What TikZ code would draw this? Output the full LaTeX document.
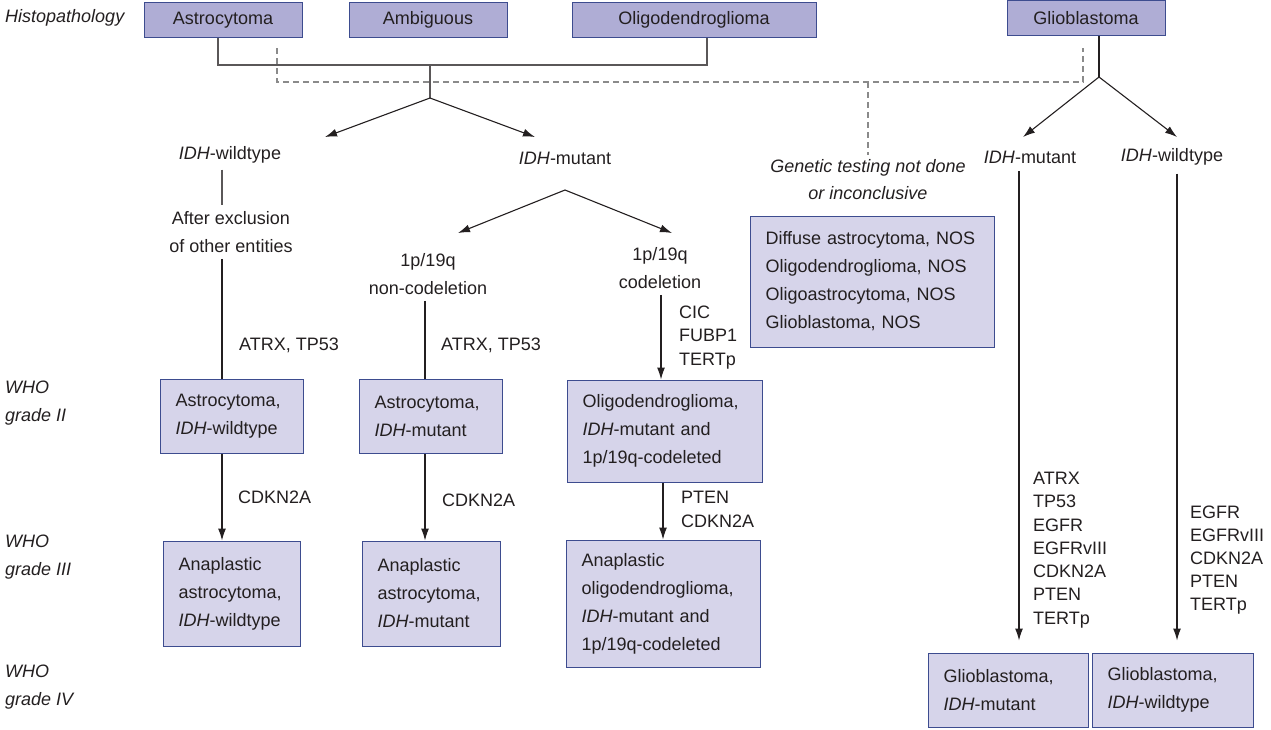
\documentclass[tikz,border=0pt]{standalone}
\usepackage{fontspec}
\setmainfont{Liberation Sans}
\usetikzlibrary{arrows.meta}
\definecolor{topfill}{HTML}{AFADD5}
\definecolor{boxfill}{HTML}{D6D4EA}
\definecolor{boxline}{HTML}{3D4C8F}
\definecolor{ink}{HTML}{231F20}
\definecolor{dashcol}{HTML}{8A8A8A}
\begin{document}
\begin{tikzpicture}[x=1pt,y=-1pt,
  every node/.style={text=ink,font=\fontsize{18}{28}\selectfont},
  topbox/.style={draw=boxline,fill=topfill,line width=1pt,minimum height=35pt,inner sep=0pt,align=center},
  box/.style={draw=boxline,fill=boxfill,line width=1pt,inner xsep=15.5pt,inner ysep=0pt,align=left},
  lbl/.style={inner sep=0pt,align=center},
  lbll/.style={inner sep=0pt,align=left,anchor=west},
  conn/.style={draw=ink,line width=1.1pt},
  hconn/.style={draw=ink!75,line width=1.1pt},
  arr/.style={draw=ink,line width=1.1pt,-{Latex[length=12pt,width=8pt]}},
  dsh/.style={draw=dashcol,line width=1.1pt,dash pattern=on 6pt off 4pt}
]
\useasboundingbox (0,0) rectangle (1271,729);
% row labels
\node[lbll,font=\fontsize{18}{28}\selectfont\itshape] (hist) at (5,18) {Histopathology};
\node[lbll,font=\fontsize{18}{28}\selectfont\itshape] (w2) at (5,403) {WHO\\grade II};
\node[lbll,font=\fontsize{18}{28}\selectfont\itshape] (w3) at (5,557) {WHO\\grade III};
\node[lbll,font=\fontsize{18}{28}\selectfont\itshape] (w4) at (5,687) {WHO\\grade IV};
% top boxes
\node[topbox,minimum width=158pt] (ast) at (223,20) {Astrocytoma};
\node[topbox,minimum width=158pt] (amb) at (428,20) {Ambiguous};
\node[topbox,minimum width=244pt] (oli) at (694,20) {Oligodendroglioma};
\node[topbox,minimum width=158pt] (gbm) at (1086,18) {Glioblastoma};
% junction coordinates
\coordinate (hl) at (218,65);
\coordinate (hr) at (707,65);
\coordinate (hc) at (430,65);
\coordinate (apex) at (430,98);
\coordinate (dl) at (277,82);
\coordinate (dr) at (1083,82);
\coordinate (dm) at (868,82);
\coordinate (gapex) at (1099,77);
\coordinate (mapex) at (565,190);
% level texts
\node[lbl] (wt1) at (230,155) {\textit{IDH}-wildtype};
\node[lbl] (mu1) at (565,158) {\textit{IDH}-mutant};
\node[lbl,font=\fontsize{18}{27}\selectfont\itshape] (gen) at (868,179.5) {Genetic testing not done\\or inconclusive};
\node[lbl] (mu2) at (1030,157) {\textit{IDH}-mutant};
\node[lbl] (wt2) at (1172,157) {\textit{IDH}-wildtype};
\node[lbl] (excl) at (231,232) {After exclusion\\of other entities};
\node[lbl] (nonc) at (428,274) {1p/19q\\non-codeletion};
\node[lbl] (cod) at (660,268) {1p/19q\\codeletion};
% arrow tip coordinates
\coordinate (t1) at (325,137);
\coordinate (t2) at (535,137);
\coordinate (t3) at (458,233);
\coordinate (t4) at (672,233);
\coordinate (t5) at (1023,137);
\coordinate (t6) at (1177,137);
% boxes
\node[box,minimum height=131pt,text width=213pt] (nos) at (872,281.5) {Diffuse astrocytoma, NOS\\Oligodendroglioma, NOS\\Oligoastrocytoma, NOS\\Glioblastoma, NOS};
\node[box,minimum height=74pt,text width=112pt] (b1) at (231.5,416.5) {Astrocytoma,\\\textit{IDH}-wildtype};
\node[box,minimum height=105pt,text width=106pt] (b2) at (231.5,593.5) {Anaplastic\\astrocytoma,\\\textit{IDH}-wildtype};
\node[box,minimum height=74pt,text width=112pt] (b3) at (430.5,416.5) {Astrocytoma,\\\textit{IDH}-mutant};
\node[box,minimum height=105pt,text width=107pt] (b4) at (431,593.5) {Anaplastic\\astrocytoma,\\\textit{IDH}-mutant};
\node[box,minimum height=102pt,text width=164pt] (b5) at (664.5,431) {Oligodendroglioma,\\\textit{IDH}-mutant and\\1p/19q-codeleted};
\node[box,minimum height=127pt,text width=163pt] (b6) at (663,603.5) {Anaplastic\\oligodendroglioma,\\\textit{IDH}-mutant and\\1p/19q-codeleted};
\node[box,minimum height=74pt,text width=129pt] (g1) at (1008,690) {Glioblastoma,\\\textit{IDH}-mutant};
\node[box,minimum height=74pt,text width=130pt] (g2) at (1172.5,690) {Glioblastoma,\\\textit{IDH}-wildtype};
% marker labels
\node[lbll] (m1) at (239,345) {ATRX, TP53};
\node[lbll] (m2) at (441,345) {ATRX, TP53};
\node[lbll] (m3) at (238,497) {CDKN2A};
\node[lbll] (m4) at (442,500) {CDKN2A};
\node[lbll,font=\fontsize{18}{23.5}\selectfont] (m5) at (679,337.5) {CIC\\FUBP1\\TERTp};
\node[lbll,font=\fontsize{18}{24}\selectfont] (m6) at (681,509) {PTEN\\CDKN2A};
\node[lbll,font=\fontsize{18}{23.3}\selectfont] (m7) at (1033,550) {ATRX\\TP53\\EGFR\\EGFRvIII\\CDKN2A\\PTEN\\TERTp};
\node[lbll,font=\fontsize{18}{23}\selectfont] (m8) at (1190,560) {EGFR\\EGFRvIII\\CDKN2A\\PTEN\\TERTp};
% solid connectors top
\draw[hconn] (ast.south -| hl) -- (hl) -- (hr) -- (oli.south -| hr);
\draw[hconn] (hc) -- (apex);
\draw[arr] (apex) -- (t1);
\draw[arr] (apex) -- (t2);
% dashed connectors
\draw[dsh] ([yshift=-10pt]ast.south -| dl) -- (dl) -- (dr) -- ([yshift=-12pt]gbm.south -| dr);
\draw[dsh] (dm) -- ([yshift=4pt]gen.north -| dm);
% glioblastoma
\draw[conn] (gbm.south -| gapex) -- (gapex);
\draw[arr] (gapex) -- (t5);
\draw[arr] (gapex) -- (t6);
% left column
\draw[hconn] ([yshift=-6pt]wt1.south -| 222,0) -- ([yshift=6pt]excl.north -| 222,0);
\draw[conn] ([yshift=-6pt]excl.south -| 222,0) -- (b1.north -| 222,0);
\draw[arr] (b1.south -| 222,0) -- (b2.north -| 222,0);
% IDH-mutant branch
\draw[arr] (mapex) -- (t3);
\draw[arr] (mapex) -- (t4);
\draw[conn] ([yshift=-6pt]nonc.south -| 425,0) -- (b3.north -| 425,0);
\draw[arr] (b3.south -| 425,0) -- (b4.north -| 425,0);
\draw[arr] ([yshift=-6pt]cod.south -| 661,0) -- (b5.north -| 661,0);
\draw[arr] (b5.south -| 663,0) -- (b6.north -| 663,0);
% glioblastoma branches
\draw[arr] ([yshift=-8pt]mu2.south -| 1019,0) -- ([yshift=12pt]g1.north -| 1019,0);
\draw[arr] ([yshift=-8pt]wt2.south -| 1177,0) -- ([yshift=12pt]g2.north -| 1177,0);
\end{tikzpicture}
\end{document}
